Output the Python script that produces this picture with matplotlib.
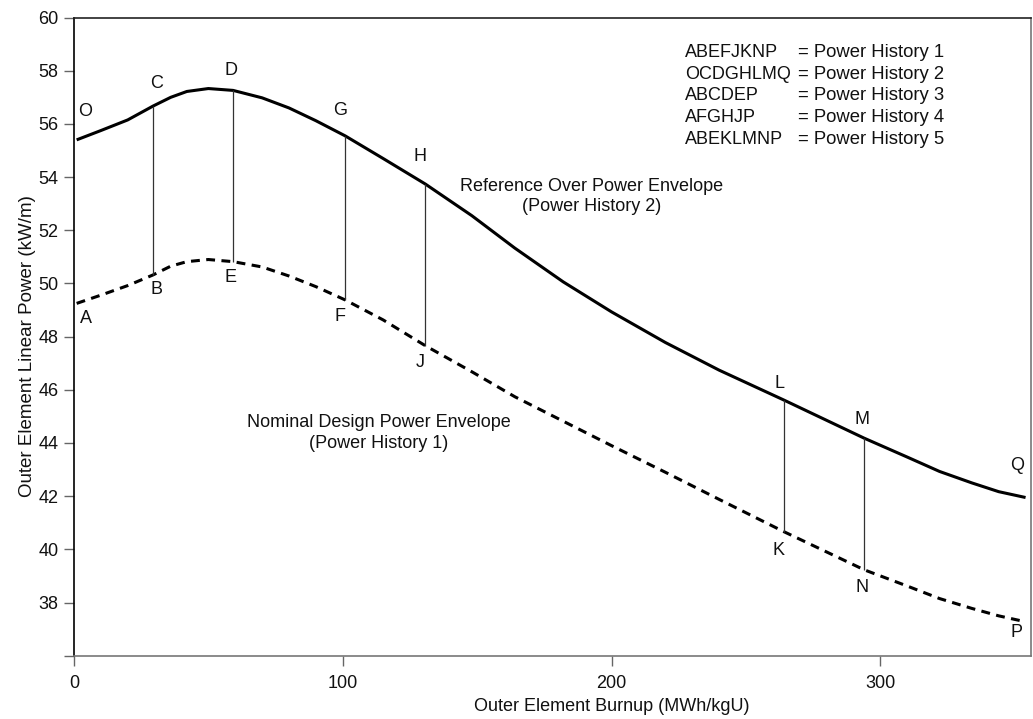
import matplotlib
matplotlib.use("Agg")
import matplotlib.pyplot as plt

plt.rcParams['font.family'] = ['Liberation Sans', 'DejaVu Sans']

# Reference over power envelope (Power History 2)
upper_burnup = [1, 10, 20, 29.4, 36, 42, 50, 59.2, 70, 80, 90, 100.9, 115, 130.7,
                148, 164, 182, 200, 220, 240, 264, 294, 310, 322, 334, 344, 354]
upper_power = [55.40, 55.75, 56.15, 56.67, 57.00, 57.22, 57.33, 57.26, 56.98, 56.60,
               56.12, 55.55, 54.70, 53.74, 52.55, 51.33, 50.06, 48.93, 47.78, 46.74,
               45.62, 44.18, 43.47, 42.93, 42.50, 42.17, 41.95]

# Nominal design power envelope (Power History 1)
lower_burnup = [1, 10, 20, 29.4, 36, 42, 50, 59.2, 70, 80, 90, 100.9, 115, 130.7,
                148, 164, 182, 200, 220, 240, 264, 294, 310, 322, 334, 344, 352.5]
lower_power = [49.25, 49.56, 49.92, 50.32, 50.65, 50.82, 50.90, 50.82, 50.62, 50.28,
               49.88, 49.38, 48.63, 47.66, 46.68, 45.74, 44.82, 43.90, 42.90, 41.88,
               40.67, 39.23, 38.62, 38.15, 37.78, 37.50, 37.31]

# Power step transitions: burnup, nominal point, over-power point
step_burnup = [29.4, 59.2, 100.9, 130.7, 264, 294]
step_low = [50.32, 50.82, 49.38, 47.66, 40.67, 39.23]
step_high = [56.67, 57.26, 55.55, 53.74, 45.62, 44.18]

# Point letters and where they sit
point_labels = ['O', 'C', 'D', 'G', 'H', 'L', 'M', 'Q',
                'A', 'B', 'E', 'F', 'J', 'K', 'N', 'P']
label_x = [4.3, 30.6, 58.4, 99.1, 128.8, 262.3, 293.0, 351.0,
           4.3, 30.6, 58.2, 99.1, 128.8, 262.0, 293.0, 350.6]
label_y = [56.45, 57.53, 57.99, 56.49, 54.77, 46.22, 44.87, 43.17,
           48.70, 49.76, 50.22, 48.75, 47.01, 39.94, 38.55, 36.87]

history_paths = ['ABEFJKNP', 'OCDGHLMQ', 'ABCDEP', 'AFGHJP', 'ABEKLMNP']
history_names = ['= Power History 1', '= Power History 2', '= Power History 3',
                 '= Power History 4', '= Power History 5']

x_ticks = [0, 100, 200, 300]
y_ticks = [36, 38, 40, 42, 44, 46, 48, 50, 52, 54, 56, 58, 60]
y_ticklabels = ['', '38', '40', '42', '44', '46', '48', '50', '52', '54', '56', '58', '60']

TXT = '#111111'

fig = plt.figure(figsize=(10.33, 7.19), dpi=100)
ax = fig.add_axes([0.0716, 0.088, 0.9264, 0.8876])

ax.plot(upper_burnup, upper_power, color='black', lw=2.2, solid_capstyle='butt',
        solid_joinstyle='round')
ax.plot(lower_burnup, lower_power, color='black', lw=2.2, dashes=(2.9, 2.1))
ax.vlines(step_burnup, step_low, step_high, color='#333333', lw=0.9)

for s, x, y in zip(point_labels, label_x, label_y):
    ax.text(x, y, s, fontsize=13, ha='center', va='center', color=TXT)

ax.text(192.7, 53.27, 'Reference Over Power Envelope\n(Power History 2)',
        fontsize=13, ha='center', va='center', linespacing=1.3, color=TXT)
ax.text(113.5, 44.36, 'Nominal Design Power Envelope\n(Power History 1)',
        fontsize=13, ha='center', va='center', linespacing=1.3, color=TXT)

for i, (p, n) in enumerate(zip(history_paths, history_names)):
    y = 58.68 - i * 0.812
    ax.text(227.3, y, p, fontsize=13, ha='left', va='center', color=TXT)
    ax.text(269.5, y, n, fontsize=13.3, ha='left', va='center', color=TXT)

ax.set_xlim(0, 356)
ax.set_ylim(36, 60)
ax.set_xticks(x_ticks)
ax.set_yticks(y_ticks)
ax.set_yticklabels(y_ticklabels)
ax.tick_params(axis='both', direction='out', length=7, width=1, colors='#666666',
               labelsize=13, labelcolor=TXT)
ax.tick_params(axis='x', pad=7)
ax.tick_params(axis='y', pad=4)

ax.spines['left'].set_color('black')
ax.spines['top'].set_color('#222222')
ax.spines['bottom'].set_color('#777777')
ax.spines['right'].set_color('#777777')
for sp in ax.spines.values():
    sp.set_linewidth(1.2)

ax.set_xlabel('Outer Element Burnup (MWh/kgU)', fontsize=13, color=TXT, va='center')
ax.xaxis.set_label_coords(0.562, -0.080)
ax.set_ylabel('Outer Element Linear Power (kW/m)', fontsize=13.5, color=TXT, va='center')
ax.yaxis.set_label_coords(-0.049, 0.485)

fig.savefig('out.png', dpi=100)
